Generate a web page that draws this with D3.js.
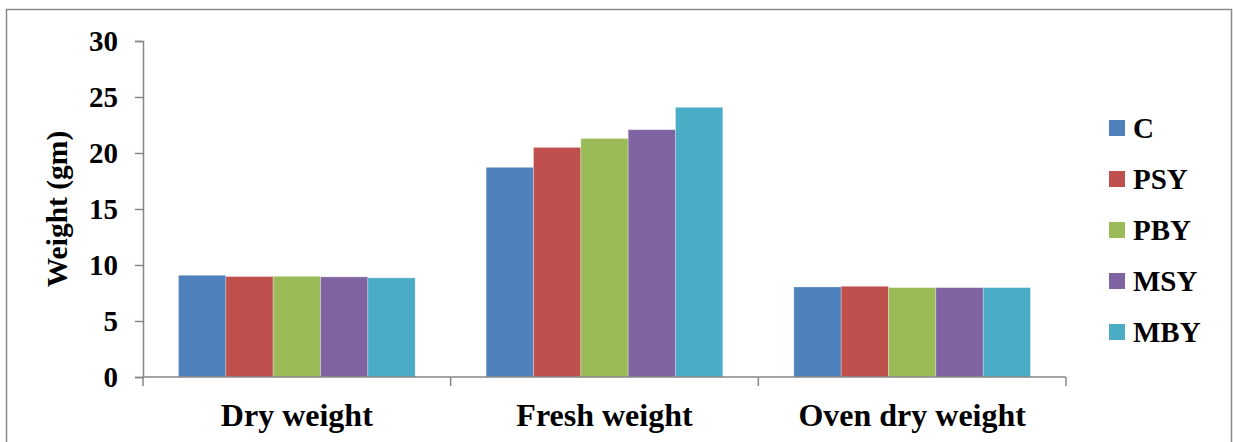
<!DOCTYPE html>
<html>
<head>
<meta charset="utf-8">
<script src="https://cdn.jsdelivr.net/npm/d3@7"></script>
<style>
  svg#fig text.serif { font-family: "Liberation Serif" !important; font-weight: bold !important; }
</style>
</head>
<body style="margin:0;background:#fff">
<svg id="fig" width="1233" height="442" style="display:block"></svg>
<script>
const categories = ["Dry weight", "Fresh weight", "Oven dry weight"];
const seriesNames = ["C", "PSY", "PBY", "MSY", "MBY"];
const seriesColors = ["#4F81BD", "#C0504D", "#9BBB59", "#8064A2", "#4BACC6"];
const valuesC   = [9.08, 18.72, 8.04];
const valuesPSY = [8.97, 20.50, 8.10];
const valuesPBY = [8.99, 21.30, 7.98];
const valuesMSY = [8.94, 22.08, 7.98];
const valuesMBY = [8.85, 24.08, 7.98];
const yTicks = [0, 5, 10, 15, 20, 25, 30];
const yTitle = "Weight (gm)";

const seriesValues = [valuesC, valuesPSY, valuesPBY, valuesMSY, valuesMBY];

const svg = d3.select("#fig");
const plot = { left: 143, right: 1066, top: 41, bottom: 377 };

function styleText(sel, size) {
  sel.classed("serif", true)
     .attr("font-family", "Liberation Serif")
     .attr("font-weight", "bold").attr("font-size", size).attr("fill", "#000")
     .style("font-family", '"Liberation Serif"', "important")
     .style("font-weight", "bold", "important");
}

// outer border
svg.append("rect")
  .attr("x", 6.5).attr("y", 9.5)
  .attr("width", 1225).attr("height", 445)
  .attr("fill", "none").attr("stroke", "#8a8a8a").attr("stroke-width", 1.5);

const x = d3.scaleBand().domain(categories).range([plot.left, plot.right]).padding(0);
const bw = x.bandwidth();
const gw = bw / 1.3;
const xs = d3.scaleBand().domain(seriesNames).range([(bw - gw) / 2, (bw + gw) / 2]).padding(0);
const y = d3.scaleLinear().domain([0, 30]).range([plot.bottom, plot.top]);

// bars
const groups = svg.append("g").selectAll("g")
  .data(categories).join("g")
  .attr("transform", d => `translate(${x(d)},0)`);

groups.selectAll("rect")
  .data((c, ci) => seriesNames.map((s, si) => ({ s, si, v: seriesValues[si][ci] })))
  .join("rect")
  .attr("x", d => xs(d.s))
  .attr("width", xs.bandwidth())
  .attr("y", d => y(d.v))
  .attr("height", d => y(0) - y(d.v))
  .attr("fill", d => seriesColors[d.si])
  .attr("stroke", "rgba(255,255,255,0.35)")
  .attr("stroke-width", 0.8);

// y axis
const yAxis = d3.axisLeft(y).tickValues(yTicks).tickSize(8).tickPadding(17).tickFormat(d3.format("d"));
const yg = svg.append("g").attr("transform", `translate(${plot.left},0)`).call(yAxis);
yg.attr("font-family", "Liberation Serif");
yg.select(".domain").attr("stroke", "#868686").attr("stroke-width", 1.5);
yg.selectAll(".tick line").attr("stroke", "#868686").attr("stroke-width", 1.5);
styleText(yg.selectAll(".tick text"), 29);

// x axis
const xAxis = d3.axisBottom(x).tickSize(0).tickPadding(0).tickFormat("");
const xg = svg.append("g").attr("transform", `translate(0,${plot.bottom})`).call(xAxis);
xg.select(".domain").attr("stroke", "#868686").attr("stroke-width", 1.5).attr("d", `M${plot.left},0H${plot.right}`);
const boundaries = categories.map(c => x(c)).concat([x(categories[categories.length - 1]) + bw]);
xg.selectAll(".bnd").data(boundaries).join("line")
  .attr("class", "bnd")
  .attr("x1", d => d).attr("x2", d => d)
  .attr("y1", 0).attr("y2", 9)
  .attr("stroke", "#868686").attr("stroke-width", 1.5);

const catLabels = svg.append("g").selectAll("text")
  .data(categories).join("text")
  .attr("x", d => x(d) + bw / 2)
  .attr("y", 426)
  .attr("text-anchor", "middle")
  .text(d => d);
styleText(catLabels, 32);

// y title
const yt = svg.append("text")
  .attr("transform", "translate(67,209) rotate(-90)")
  .attr("text-anchor", "middle")
  .text(yTitle);
styleText(yt, 29.5);

// legend
const lg = svg.append("g").selectAll("g")
  .data(seriesNames).join("g")
  .attr("transform", (d, i) => `translate(1109,${128 + i * 51})`);
lg.append("rect")
  .attr("x", 0).attr("y", -8).attr("width", 16).attr("height", 16)
  .attr("fill", (d, i) => seriesColors[i]);
const lt = lg.append("text")
  .attr("x", 24).attr("y", 10)
  .text(d => d);
styleText(lt, 29);
</script>
</body>
</html>
